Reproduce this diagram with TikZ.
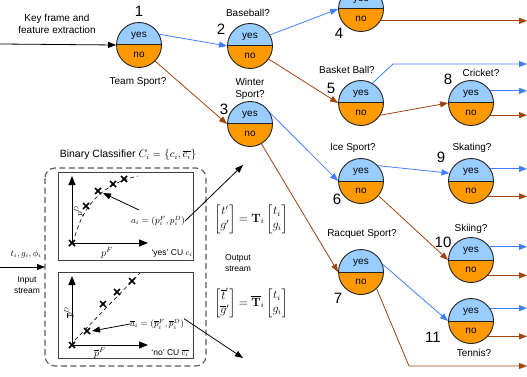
\documentclass[tikz,border=0pt]{standalone}
\usepackage{amsmath}
\usepackage[no-math]{fontspec}
\setmainfont{Liberation Sans}
\usetikzlibrary{arrows.meta,calc}

\definecolor{qyes}{HTML}{99CCFF}
\definecolor{qno}{HTML}{FF9900}
\definecolor{yline}{HTML}{3F7FFF}
\definecolor{nline}{HTML}{A3440F}
\definecolor{edgegray}{HTML}{222222}

\tikzset{
  qcirc/.style={circle, minimum size=45pt, inner sep=0pt, draw=edgegray, line width=0.9pt,
    path picture={
      \fill[qyes] (path picture bounding box.west) rectangle (path picture bounding box.north east);
      \fill[qno] (path picture bounding box.west) rectangle (path picture bounding box.south east);
      \draw[edgegray, line width=1pt] (path picture bounding box.west) -- (path picture bounding box.east);
    }},
  ans/.style={font=\fontsize{10}{12}\selectfont, inner sep=0pt},
  num/.style={font=\fontsize{15}{18}\selectfont, inner sep=0pt},
  lbl/.style={font=\fontsize{10}{12}\selectfont, inner sep=0pt, align=center},
  small/.style={font=\fontsize{8.5}{11}\selectfont, inner sep=0pt, align=center},
  mathlbl/.style={font=\fontsize{9}{11}\selectfont, inner sep=0pt},
  axlbl/.style={font=\fontsize{10}{12}\selectfont, inner sep=0pt},
  eqn/.style={font=\fontsize{12}{14}\selectfont, inner sep=0pt},
  tip/.style={-{Triangle[length=8pt,width=6pt]}},
  yesarr/.style={draw=yline, line width=0.8pt, tip},
  noarr/.style={draw=nline, line width=0.8pt, tip},
  blkarr/.style={draw=black, line width=0.8pt, tip},
  axarr/.style={draw=black, line width=1pt, -{Triangle[length=9pt,width=7pt]}},
  dashbox/.style={draw=black!65, line width=1.1pt, dash pattern=on 6pt off 3.5pt, rounded corners=10pt},
  plotbox/.style={draw=black!75, line width=1pt},
  trend/.style={draw=black, line width=0.6pt, dash pattern=on 4pt off 3pt},
  xmark/.style={draw=black, line width=1.5pt},
}

% question node: circle split into a "yes" and a "no" half
\newcommand\qnode[3]{%
  \node[qcirc] (#1) at (#2,#3) {};
  \node[ans] (#1-yes) at ([yshift=9.5pt]#1.center) {yes};
  \node[ans] (#1-no) at ([yshift=-9.5pt]#1.center) {no};
}
% a cross marker
\newcommand\xpt[1]{%
  \draw[xmark] ($(#1)+(-3,-3)$) -- ($(#1)+(3,3)$);
  \draw[xmark] ($(#1)+(-3,3)$) -- ($(#1)+(3,-3)$);
}

\begin{document}
\begin{tikzpicture}[x=1pt, y=-1pt]
\useasboundingbox (0,0) rectangle (527,377);
\clip (0,0) rectangle (527,377);

% ---------------- decision tree ----------------
\qnode{n1}{139}{45}
\qnode{n2}{250}{46}
\qnode{n3}{250}{124}
\qnode{n4}{361}{9}
\qnode{n5}{361}{103}
\qnode{n6}{361}{181}
\qnode{n7}{361}{272}
\qnode{n8}{471}{103}
\qnode{n9}{471}{181}
\qnode{n10}{471}{260}
\qnode{n11}{471}{321}

\node[num] (l1) at (139,11) {1};
\node[num] (l2) at (221,29) {2};
\node[num] (l3) at (224,109) {3};
\node[num] (l4) at (339,33) {4};
\node[num] (l5) at (331,88) {5};
\node[num] (l6) at (337,199) {6};
\node[num] (l7) at (338,298) {7};
\node[num] (l8) at (448,79) {8};
\node[num] (l9) at (441,157) {9};
\node[num] (l10) at (443,242) {10};
\node[num] (l11) at (433,337) {11};

\node[lbl] (kf) at (57,24) {Key frame and\\feature extraction};
\node[lbl] (q1) at (138,82) {Team Sport?};
\node[lbl] (q2) at (248,13) {Baseball?};
\node[lbl] (q3) at (250,89) {Winter\\Sport?};
\node[lbl] (q5) at (347,70) {Basket Ball?};
\node[lbl] (q8) at (481,73) {Cricket?};
\node[lbl] (q6) at (353,148) {Ice Sport?};
\node[lbl] (q9) at (472,148) {Skating?};
\node[lbl] (q7) at (362,234) {Racquet Sport?};
\node[lbl] (q10) at (471,229) {Skiing?};
\node[lbl] (q11) at (474,353) {Tennis?};

\coordinate (src) at (0,44);
\coordinate (xr) at (527,0);
\coordinate (k5) at (393,64);
\coordinate (k7) at (409,366);

\draw[blkarr] (src) -- (n1.west);
\draw[yesarr] (n1.28) -- (n2.west);
\draw[noarr] (n1.-45) -- (n3.west);
\draw[yesarr] (n2.29) -- (n4.west);
\draw[noarr] (n2.-35) -- (n5.west);
\draw[yesarr] (n3.30) -- (n6.west);
\draw[noarr] (n3.-60) -- (n7.west);
\draw[noarr] (n5.-32) -- (n8.west);
\draw[yesarr] (n6.42) -- (n9.160);
\draw[noarr] (n6.-40) -- (n10.west);
\draw[yesarr] (n7.20) -- (n11.west);

% leaves running off to the right
\draw[yesarr] (n4.50) -- (n4.50 -| xr);
\draw[noarr] (n4.-31) -- (n4.-31 -| xr);
\draw[yesarr] (n5.60) -- (k5) -- (k5 -| xr);
\draw[yesarr] (n8.32) -- (n8.32 -| xr);
\draw[noarr] (n8.-32) -- (n8.-32 -| xr);
\draw[yesarr] (n9.32) -- (n9.32 -| xr);
\draw[noarr] (n9.-42) -- (n9.-42 -| xr);
\draw[yesarr] (n10.35) -- (n10.35 -| xr);
\draw[noarr] (n10.-42) -- (n10.-42 -| xr);
\draw[yesarr] (n11.34) -- (n11.34 -| xr);
\draw[noarr] (n11.-42) -- (n11.-42 -| xr);
\draw[noarr] (n7.-47) -- (k7) -- (k7 -| xr);

% ---------------- binary classifier ----------------
\node[lbl, font=\fontsize{10.5}{12}\selectfont] (bc) at (128,155) {Binary Classifier $C_i=\{c_i,\overline{c_i}\}$};
\draw[dashbox] (45,168) rectangle (206,366);
\draw[plotbox] (58,172) rectangle (193,260);
\draw[plotbox] (58,272) rectangle (193,358);

% "yes" CU plot
\coordinate (o1) at (72,243);
\coordinate (o1y) at (72,176);
\coordinate (o1x) at (148,243);
\draw[trend] (75,236) .. controls (84,205) and (102,184) .. (138,176);
\draw[axarr] (o1) -- (o1y);
\draw[axarr] (o1) -- (o1x);
\node[mathlbl, rotate=90] (pd1) at (79,211) {$p^D$};
\node[axlbl] (pf1) at (107,253) {$p^F$};
\node[small] (cu1) at (172,253) {`yes' CU $c_i$};
\coordinate (a1) at (72,243);
\coordinate (a2) at (86,206);
\coordinate (a3) at (98,191);
\coordinate (a4) at (113,184);
\coordinate (a5) at (124,179);
\xpt{a1}\xpt{a2}\xpt{a3}\xpt{a4}\xpt{a5}
\node[mathlbl] (ai) at (158,221) {$a_i=(p_i^F,p_i^D)$};
\draw[blkarr] (139,210) -- (103,193);

% "no" CU plot
\coordinate (o2) at (72,345);
\coordinate (o2y) at (72,276);
\coordinate (o2x) at (148,345);
\draw[trend] (75,340) -- (140,273);
\draw[axarr] (o2) -- (o2y);
\draw[axarr] (o2) -- (o2x);
\node[mathlbl, rotate=90] (pd2) at (69,312) {$\overline{p}^D$};
\node[axlbl] (pf2) at (100,353) {$\overline{p}^F$};
\node[small] (cu2) at (170,353) {`no' CU $\overline{c_i}$};
\coordinate (b1) at (72,345);
\coordinate (b2) at (87,331);
\coordinate (b3) at (103,304);
\coordinate (b4) at (117,292);
\coordinate (b5) at (132,281);
\xpt{b1}\xpt{b2}\xpt{b3}\xpt{b4}\xpt{b5}
\node[mathlbl] (abar) at (157,324) {$\overline{a}_i=(\overline{p}_i^F,\overline{p}_i^D)$};
\draw[blkarr] (abar.west) -- (92,331);

% input and output streams
\coordinate (insrc) at (0,267);
\coordinate (indst) at (45,267);
\node[mathlbl] (tin) at (26,254) {$t_i,g_i,\phi_i$};
\draw[blkarr] (insrc) -- (indst);
\node[small] (instr) at (27,285) {Input\\stream};

\coordinate (out1) at (243,165);
\coordinate (out2) at (243,358);
\draw[blkarr] (ai.east) -- (out1);
\draw[blkarr] (abar.north east) -- (out2);

\node[eqn] (eq1) at (251,219)
  {$\begin{bmatrix} t' \\ g' \end{bmatrix}=\mathbf{T}_i\begin{bmatrix} t_i \\ g_i \end{bmatrix}$};
\node[small] (ostr) at (238,263) {Output\\stream};
\node[eqn] (eq2) at (251,303)
  {$\begin{bmatrix} \overline{t}' \\ \overline{g}' \end{bmatrix}=\overline{\mathbf{T}}_i\begin{bmatrix} t_i \\ g_i \end{bmatrix}$};
\end{tikzpicture}
\end{document}
